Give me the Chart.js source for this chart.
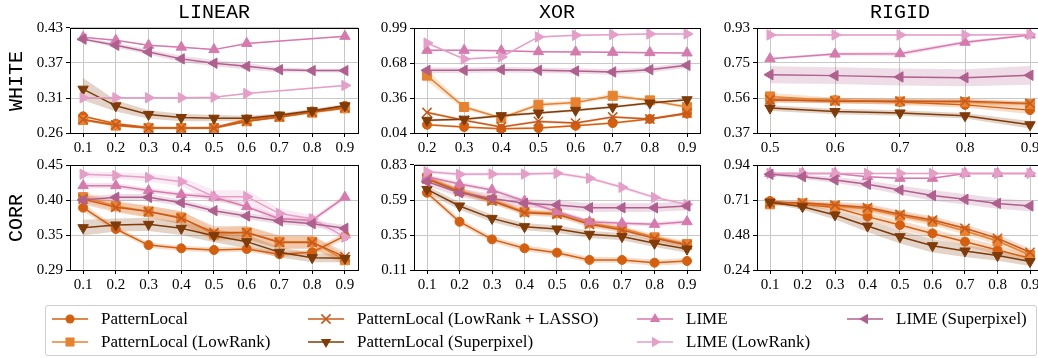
<!DOCTYPE html>
<html>
<head>
<meta charset="utf-8">
<script src="https://cdn.jsdelivr.net/npm/chart.js@4/dist/chart.umd.min.js"></script>
<style>
  html, body { margin: 0; padding: 0; background: #fff; overflow: hidden; width: 1038px; height: 358px; }
  #fig { position: relative; width: 1038px; height: 358px; overflow: hidden; }
  #fig canvas { position: absolute; }
  .title { position: absolute; font-family: "Liberation Mono", "DejaVu Sans Mono", monospace; font-size: 20px; color: #000;
           transform: translate(-50%, -50%); white-space: nowrap; line-height: 1; }
  .rowlab { position: absolute; font-family: "Liberation Mono", "DejaVu Sans Mono", monospace; font-size: 20px; color: #000;
            transform: translate(-50%, -50%) rotate(-90deg); white-space: nowrap; line-height: 1; }
  .legend { position: absolute; left: 45px; top: 305px; width: 992px; height: 51px; box-sizing: border-box;
            border: 1px solid #cfcfcf; border-radius: 3px; background: #fff; }
  .lg-icon { position: absolute; }
  .lg-text { position: absolute; font-family: "Liberation Serif", "DejaVu Serif", serif; font-size: 17px; color: #000;
             line-height: 20px; white-space: nowrap; }
</style>
</head>
<body>
<div id="fig"></div>
<script>
// ---------- data ----------
const X_FULL = [0.1, 0.2, 0.3, 0.4, 0.5, 0.6, 0.7, 0.8, 0.9];
const X_XOR_WHITE = [0.2, 0.3, 0.4, 0.5, 0.6, 0.7, 0.8, 0.9];
const X_RIGID_WHITE = [0.5, 0.6, 0.7, 0.8, 0.9];

const COLUMN_TITLES = ['LINEAR', 'XOR', 'RIGID'];
const ROW_TITLES = ['WHITE', 'CORR'];

const SERIES_NAMES = ['PatternLocal', 'PatternLocal (LowRank)', 'PatternLocal (LowRank + LASSO)',
  'PatternLocal (Superpixel)', 'LIME', 'LIME (LowRank)', 'LIME (Superpixel)'];

const TICKS_LINEAR_WHITE = ['0.26', '0.31', '0.37', '0.43'];
const TICKS_XOR_WHITE = ['0.04', '0.36', '0.68', '0.99'];
const TICKS_RIGID_WHITE = ['0.37', '0.56', '0.75', '0.93'];
const TICKS_LINEAR_CORR = ['0.29', '0.35', '0.40', '0.45'];
const TICKS_XOR_CORR = ['0.11', '0.35', '0.59', '0.83'];
const TICKS_RIGID_CORR = ['0.24', '0.48', '0.71', '0.94'];

// series order: PatternLocal, LowRank, LowRank+LASSO, Superpixel, LIME, LIME LowRank, LIME Superpixel
const LINEAR_WHITE_MEAN = [
  [0.287, 0.275, 0.269, 0.268, 0.269, 0.282, 0.287, 0.295, 0.304],
  [0.281, 0.272, 0.268, 0.268, 0.268, 0.279, 0.286, 0.293, 0.300],
  [0.282, 0.273, 0.268, 0.268, 0.268, 0.279, 0.286, 0.294, 0.301],
  [0.331, 0.304, 0.290, 0.285, 0.284, 0.284, 0.289, 0.296, 0.304],
  [0.415, 0.410, 0.402, 0.399, 0.395, 0.405, null, null, 0.4165],
  [0.317, 0.317, 0.317, 0.317, 0.318, 0.324, null, null, 0.337],
  [0.412, 0.402, 0.391, 0.380, 0.373, 0.368, 0.3625, 0.361, 0.361]
];
const LINEAR_WHITE_SPREAD = [
  [0.002, 0.002, 0.002, 0.002, 0.002, 0.002, 0.002, 0.002, 0.002],
  [0.002, 0.002, 0.002, 0.002, 0.002, 0.002, 0.002, 0.002, 0.002],
  [0.002, 0.002, 0.002, 0.002, 0.002, 0.002, 0.002, 0.002, 0.002],
  [0.018, 0.009, 0.007, 0.006, 0.005, 0.004, 0.003, 0.003, 0.003],
  [0.001, 0.001, 0.001, 0.001, 0.001, 0.001, 0.001, 0.001, 0.001],
  [0.001, 0.001, 0.001, 0.001, 0.001, 0.001, 0.001, 0.001, 0.001],
  [0.002, 0.004, 0.004, 0.005, 0.005, 0.005, 0.004, 0.003, 0.003]
];

const XOR_WHITE_MEAN = [
  [0.115, 0.094, 0.078, 0.085, 0.106, 0.130, 0.167, 0.215],
  [0.559, 0.275, 0.175, 0.296, 0.317, 0.377, 0.335, 0.275],
  [0.226, 0.155, 0.094, 0.145, 0.130, 0.185, 0.167, 0.221],
  [0.155, 0.165, 0.197, 0.221, 0.245, 0.275, 0.311, 0.341],
  [0.788, 0.788, 0.785, 0.776, 0.773, 0.770, 0.767, 0.764],
  [0.854, 0.709, 0.728, 0.909, 0.924, 0.930, 0.936, 0.936],
  [0.607, 0.607, 0.613, 0.607, 0.601, 0.592, 0.613, 0.652]
];
const XOR_WHITE_SPREAD = [
  [0.010, 0.010, 0.010, 0.010, 0.010, 0.010, 0.010, 0.010],
  [0.050, 0.020, 0.015, 0.020, 0.020, 0.020, 0.015, 0.015],
  [0.012, 0.012, 0.012, 0.012, 0.012, 0.012, 0.012, 0.012],
  [0.012, 0.012, 0.012, 0.012, 0.012, 0.012, 0.012, 0.012],
  [0.008, 0.008, 0.008, 0.008, 0.008, 0.008, 0.008, 0.008],
  [0.008, 0.008, 0.008, 0.008, 0.008, 0.008, 0.008, 0.008],
  [0.025, 0.025, 0.025, 0.025, 0.025, 0.025, 0.025, 0.025]
];

const RIGID_WHITE_MEAN = [
  [0.545, 0.545, 0.535, 0.520, 0.492],
  [0.565, 0.543, 0.538, 0.535, 0.525],
  [0.548, 0.540, 0.540, 0.540, 0.528],
  [0.503, 0.485, 0.477, 0.462, 0.414],
  [0.766, 0.791, 0.793, 0.854, 0.893],
  [0.893, 0.893, 0.893, 0.893, 0.895],
  [0.681, 0.676, 0.669, 0.665, 0.678]
];
const RIGID_WHITE_SPREAD = [
  [0.015, 0.015, 0.015, 0.015, 0.020],
  [0.020, 0.015, 0.015, 0.015, 0.015],
  [0.012, 0.012, 0.012, 0.012, 0.012],
  [0.015, 0.015, 0.015, 0.015, 0.020],
  [0.005, 0.008, 0.012, 0.010, 0.005],
  [0.005, 0.005, 0.005, 0.005, 0.005],
  [0.045, 0.045, 0.045, 0.045, 0.050]
];

const LINEAR_CORR_MEAN = [
  [0.385, 0.3525, 0.328, 0.323, 0.3205, 0.322, 0.314, 0.317, 0.342],
  [0.401, 0.3875, 0.379, 0.370, 0.344, 0.347, 0.333, 0.333, 0.305],
  [0.398, 0.3855, 0.379, 0.369, 0.347, 0.347, 0.332, 0.332, 0.310],
  [0.3545, 0.3586, 0.3596, 0.3535, 0.3423, 0.3332, 0.317, 0.3088, 0.3078],
  [0.4185, 0.4185, 0.411, 0.405, 0.401, 0.3865, 0.368, 0.366, 0.401],
  [0.436, 0.434, 0.431, 0.4246, 0.4017, 0.4017, 0.376, 0.368, 0.340],
  [0.3967, 0.4007, 0.4007, 0.3926, 0.3804, 0.3723, 0.3647, 0.3606, 0.3535]
];
const LINEAR_CORR_SPREAD = [
  [0.006, 0.004, 0.004, 0.004, 0.004, 0.004, 0.004, 0.004, 0.005],
  [0.008, 0.008, 0.009, 0.010, 0.010, 0.010, 0.010, 0.010, 0.008],
  [0.008, 0.008, 0.009, 0.010, 0.010, 0.010, 0.010, 0.010, 0.008],
  [0.012, 0.010, 0.010, 0.010, 0.010, 0.010, 0.008, 0.007, 0.006],
  [0.004, 0.004, 0.004, 0.004, 0.004, 0.004, 0.004, 0.004, 0.004],
  [0.005, 0.005, 0.006, 0.007, 0.010, 0.010, 0.008, 0.006, 0.005],
  [0.005, 0.005, 0.005, 0.005, 0.005, 0.005, 0.005, 0.005, 0.005]
];

const XOR_CORR_MEAN = [
  [0.640, 0.441, 0.320, 0.259, 0.229, 0.179, 0.179, 0.160, 0.172],
  [0.743, 0.654, 0.590, 0.510, 0.499, 0.430, 0.396, 0.334, 0.288],
  [0.734, 0.647, 0.583, 0.503, 0.492, 0.423, 0.384, 0.327, 0.281],
  [0.663, 0.549, 0.464, 0.407, 0.391, 0.355, 0.339, 0.293, 0.254],
  [0.750, 0.700, 0.659, 0.583, 0.510, 0.441, 0.430, 0.423, 0.441],
  [0.784, 0.766, 0.768, 0.768, 0.773, 0.739, 0.677, 0.608, 0.560],
  [0.716, 0.640, 0.601, 0.567, 0.556, 0.537, 0.537, 0.537, 0.549]
];
const XOR_CORR_SPREAD = [
  [0.020, 0.020, 0.020, 0.020, 0.020, 0.020, 0.020, 0.020, 0.020],
  [0.020, 0.020, 0.020, 0.020, 0.020, 0.020, 0.020, 0.020, 0.020],
  [0.020, 0.020, 0.020, 0.020, 0.020, 0.020, 0.020, 0.020, 0.020],
  [0.025, 0.025, 0.025, 0.025, 0.025, 0.025, 0.025, 0.025, 0.025],
  [0.015, 0.015, 0.015, 0.015, 0.015, 0.015, 0.015, 0.015, 0.015],
  [0.012, 0.012, 0.012, 0.012, 0.012, 0.012, 0.012, 0.012, 0.012],
  [0.030, 0.030, 0.030, 0.030, 0.030, 0.030, 0.030, 0.030, 0.030]
];

const RIGID_CORR_MEAN = [
  [0.700, 0.678, 0.656, 0.596, 0.540, 0.484, 0.429, 0.373, 0.318],
  [0.678, 0.684, 0.667, 0.647, 0.602, 0.562, 0.500, 0.433, 0.340],
  [0.689, 0.689, 0.673, 0.656, 0.611, 0.573, 0.518, 0.451, 0.358],
  [0.691, 0.662, 0.607, 0.533, 0.462, 0.402, 0.367, 0.336, 0.296],
  [0.884, 0.884, 0.884, 0.862, 0.851, 0.851, 0.884, 0.884, 0.884],
  [0.884, 0.884, 0.884, 0.884, 0.884, 0.884, 0.884, 0.884, 0.884],
  [0.878, 0.862, 0.840, 0.811, 0.773, 0.736, 0.711, 0.684, 0.667]
];
const RIGID_CORR_SPREAD = [
  [0.010, 0.015, 0.020, 0.025, 0.030, 0.030, 0.030, 0.030, 0.025],
  [0.010, 0.015, 0.020, 0.025, 0.025, 0.025, 0.025, 0.025, 0.025],
  [0.010, 0.015, 0.020, 0.025, 0.025, 0.025, 0.025, 0.025, 0.025],
  [0.010, 0.020, 0.030, 0.040, 0.045, 0.045, 0.040, 0.035, 0.030],
  [0.005, 0.005, 0.005, 0.005, 0.005, 0.005, 0.005, 0.005, 0.005],
  [0.005, 0.005, 0.005, 0.005, 0.005, 0.005, 0.005, 0.005, 0.005],
  [0.010, 0.015, 0.020, 0.025, 0.030, 0.035, 0.035, 0.035, 0.035]
];

// ---------- styling ----------
const SERIES_COLORS = ['#d65f0e', '#e8822e', '#c8591a', '#7f3b08', '#d67aae', '#e59ec8', '#b0608f'];
const SERIES_MARKERS = [
  { style: 'circle',   rot: 0,   r: 4.5 },
  { style: 'rect',     rot: 0,   r: 6.4 },
  { style: 'crossRot', rot: 0,   r: 6.5 },
  { style: 'triangle', rot: 180, r: 6 },
  { style: 'triangle', rot: 0,   r: 6 },
  { style: 'triangle', rot: 90,  r: 6 },
  { style: 'triangle', rot: 270, r: 6 }
];

// plot-area geometry (pixels)
const COLS = [{ left: 70, right: 358 }, { left: 414, right: 700 }, { left: 757, right: 1043 }];
const ROWS = [{ top: 28, bottom: 133 }, { top: 165, bottom: 270 }];
const Y_AXIS_W = 60, X_AXIS_H = 26, PAD_T = 12, PAD_R = 14;
const TICK_FONT = { family: '"Liberation Serif", "DejaVu Serif", serif', size: 15 };

const PANELS = [
  { row: 0, col: 0, x: X_FULL,        ticks: TICKS_LINEAR_WHITE, mean: LINEAR_WHITE_MEAN, spread: LINEAR_WHITE_SPREAD },
  { row: 0, col: 1, x: X_XOR_WHITE,   ticks: TICKS_XOR_WHITE,    mean: XOR_WHITE_MEAN,    spread: XOR_WHITE_SPREAD },
  { row: 0, col: 2, x: X_RIGID_WHITE, ticks: TICKS_RIGID_WHITE,  mean: RIGID_WHITE_MEAN,  spread: RIGID_WHITE_SPREAD },
  { row: 1, col: 0, x: X_FULL,        ticks: TICKS_LINEAR_CORR,  mean: LINEAR_CORR_MEAN,  spread: LINEAR_CORR_SPREAD },
  { row: 1, col: 1, x: X_FULL,        ticks: TICKS_XOR_CORR,     mean: XOR_CORR_MEAN,     spread: XOR_CORR_SPREAD },
  { row: 1, col: 2, x: X_FULL,        ticks: TICKS_RIGID_CORR,   mean: RIGID_CORR_MEAN,   spread: RIGID_CORR_SPREAD }
];

function rgba(hex, a) {
  const n = parseInt(hex.slice(1), 16);
  return `rgba(${(n >> 16) & 255}, ${(n >> 8) & 255}, ${n & 255}, ${a})`;
}

// black box around each plot area, drawn over the data like axes spines
const framePlugin = {
  id: 'frame',
  afterDatasetsDraw(chart) {
    const { ctx, chartArea: a } = chart;
    ctx.save();
    ctx.strokeStyle = '#000';
    ctx.lineWidth = 1;
    ctx.strokeRect(Math.round(a.left) + 0.5, Math.round(a.top) + 0.5,
                   Math.round(a.right - a.left), Math.round(a.bottom - a.top));
    ctx.restore();
  }
};

const fig = document.getElementById('fig');

function buildPanel(p) {
  const col = COLS[p.col], row = ROWS[p.row];
  const plotW = col.right - col.left, plotH = row.bottom - row.top;
  const canvas = document.createElement('canvas');
  canvas.width = Y_AXIS_W + plotW + PAD_R;
  canvas.height = PAD_T + plotH + X_AXIS_H;
  canvas.style.left = (col.left - Y_AXIS_W) + 'px';
  canvas.style.top = (row.top - PAD_T) + 'px';
  fig.appendChild(canvas);

  const xs = p.x;
  const xSpan = xs[xs.length - 1] - xs[0];
  const xMin = xs[0] - 0.05 * xSpan, xMax = xs[xs.length - 1] + 0.05 * xSpan;
  const yMin = parseFloat(p.ticks[0]), yMax = parseFloat(p.ticks[p.ticks.length - 1]);
  const nT = p.ticks.length;

  const datasets = [];
  // shaded spread bands (drawn beneath the lines)
  p.mean.forEach((m, i) => {
    const s = p.spread[i];
    const hi = xs.map((x, k) => ({ x, y: m[k] == null ? null : m[k] + s[k] }));
    const lo = xs.map((x, k) => ({ x, y: m[k] == null ? null : m[k] - s[k] }));
    datasets.push({ data: hi, borderWidth: 0, pointRadius: 0, fill: false, spanGaps: true, order: 100 });
    datasets.push({ data: lo, borderWidth: 0, pointRadius: 0, fill: '-1', spanGaps: true, order: 100,
                    backgroundColor: rgba(SERIES_COLORS[i], 0.22) });
  });
  // mean lines with markers
  p.mean.forEach((m, i) => {
    const mk = SERIES_MARKERS[i], c = SERIES_COLORS[i];
    datasets.push({
      label: SERIES_NAMES[i],
      data: xs.map((x, k) => ({ x, y: m[k] })),
      borderColor: c, backgroundColor: c, borderWidth: 1.5,
      pointStyle: mk.style, pointRotation: mk.rot, pointRadius: mk.r,
      pointBackgroundColor: c, pointBorderColor: c,
      pointBorderWidth: mk.style === 'crossRot' ? 1.6 : 1,
      fill: false, spanGaps: true, tension: 0, order: 20 - i
    });
  });

  new Chart(canvas, {
    type: 'line',
    data: { datasets },
    plugins: [framePlugin],
    options: {
      responsive: false, animation: false, devicePixelRatio: 1,
      layout: { padding: { top: PAD_T, right: PAD_R, left: 0, bottom: 0 } },
      plugins: { legend: { display: false }, tooltip: { enabled: false }, title: { display: false } },
      scales: {
        x: {
          type: 'linear', min: xMin, max: xMax,
          afterBuildTicks: sc => { sc.ticks = xs.map(v => ({ value: v })); },
          afterFit: sc => { sc.height = X_AXIS_H; },
          ticks: { callback: v => v.toFixed(1), font: TICK_FONT, color: '#000', padding: 2,
                   maxRotation: 0, autoSkip: false },
          grid: { color: '#c8c8c8', lineWidth: 1, tickColor: '#000', tickLength: 4, drawTicks: true },
          border: { color: '#000', width: 1 }
        },
        y: {
          type: 'linear', min: yMin, max: yMax,
          afterBuildTicks: sc => {
            sc.ticks = p.ticks.map((_, k) => ({ value: yMin + (yMax - yMin) * k / (nT - 1) }));
          },
          afterFit: sc => { sc.width = Y_AXIS_W; },
          ticks: { callback: (v, k) => p.ticks[k], font: TICK_FONT, color: '#000', padding: 3, autoSkip: false },
          grid: { color: '#c8c8c8', lineWidth: 1, tickColor: '#000', tickLength: 4, drawTicks: true },
          border: { color: '#000', width: 1 }
        }
      }
    }
  });
}

PANELS.forEach(buildPanel);

// column and row headings
COLUMN_TITLES.forEach((t, j) => {
  const d = document.createElement('div');
  d.className = 'title';
  d.textContent = t;
  d.style.left = ((COLS[j].left + COLS[j].right) / 2) + 'px';
  d.style.top = '13px';
  fig.appendChild(d);
});
ROW_TITLES.forEach((t, r) => {
  const d = document.createElement('div');
  d.className = 'rowlab';
  d.textContent = t;
  d.style.left = '17px';
  d.style.top = ((ROWS[r].top + ROWS[r].bottom) / 2) + 'px';
  fig.appendChild(d);
});

// ---------- legend ----------
function markerSvg(mk, color) {
  const w = 36, h = 16, cx = w / 2, cy = h / 2;
  let shape = '';
  if (mk.style === 'circle') {
    shape = `<circle cx="${cx}" cy="${cy}" r="${mk.r}" fill="${color}"/>`;
  } else if (mk.style === 'rect') {
    const s = mk.r * Math.SQRT1_2;
    shape = `<rect x="${cx - s}" y="${cy - s}" width="${2 * s}" height="${2 * s}" fill="${color}"/>`;
  } else if (mk.style === 'crossRot') {
    const o = mk.r * Math.SQRT1_2;
    shape = `<path d="M${cx - o} ${cy - o}L${cx + o} ${cy + o}M${cx - o} ${cy + o}L${cx + o} ${cy - o}" stroke="${color}" stroke-width="1.6"/>`;
  } else {
    const pts = [0, 1, 2].map(k => {
      const a = (mk.rot + 120 * k) * Math.PI / 180;
      return `${cx + Math.sin(a) * mk.r},${cy - Math.cos(a) * mk.r}`;
    }).join(' ');
    shape = `<polygon points="${pts}" fill="${color}"/>`;
  }
  return `<svg width="${w}" height="${h}" xmlns="http://www.w3.org/2000/svg">` +
         `<line x1="0" y1="${cy}" x2="${w}" y2="${cy}" stroke="${color}" stroke-width="1.5"/>${shape}</svg>`;
}

const legend = document.createElement('div');
legend.className = 'legend';
fig.appendChild(legend);

const LEGEND_COL_X = [52, 308, 637, 847];
const LEGEND_ROW_Y = [319, 342];
SERIES_NAMES.forEach((name, i) => {
  const c = Math.floor(i / 2), r = i % 2;
  const icon = document.createElement('div');
  icon.className = 'lg-icon';
  icon.style.left = LEGEND_COL_X[c] + 'px';
  icon.style.top = (LEGEND_ROW_Y[r] - 8) + 'px';
  icon.innerHTML = markerSvg(SERIES_MARKERS[i], SERIES_COLORS[i]);
  fig.appendChild(icon);
  const txt = document.createElement('div');
  txt.className = 'lg-text';
  txt.textContent = name;
  txt.style.left = (LEGEND_COL_X[c] + 49) + 'px';
  txt.style.top = (LEGEND_ROW_Y[r] - 10) + 'px';
  fig.appendChild(txt);
});
</script>
</body>
</html>
